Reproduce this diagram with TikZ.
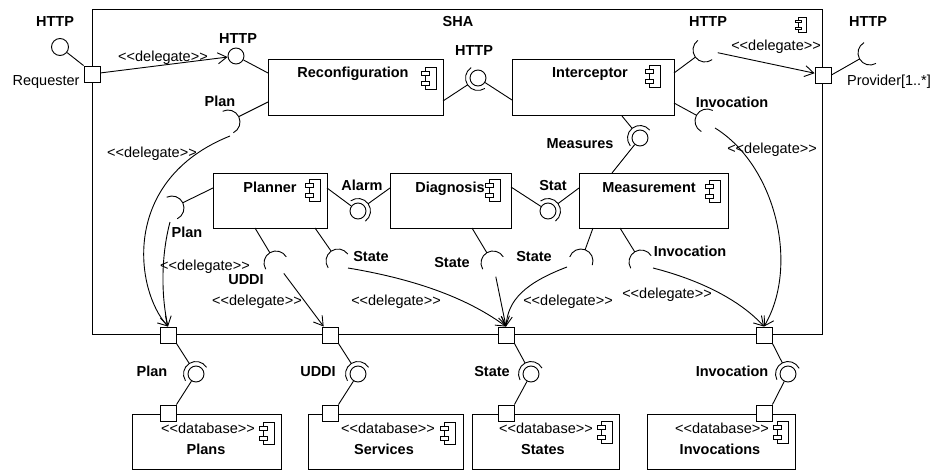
\documentclass[tikz,border=0pt]{standalone}
\usepackage{fontspec}
\newfontfamily\lsans{Liberation Sans}
\usetikzlibrary{calc,arrows.meta}
\newcommand\sockarc[3]{%
  \draw (#1) -- ($(#2)!#3pt!(#1)$);
  \draw let \p1=($(#1)-(#2)$), \n1={atan2(\y1,\x1)} in
    ($(#2)+(\n1-90:#3pt)$) arc[start angle=\n1-90, delta angle=180, radius=#3pt];
}
\tikzset{
  cicon/.pic={
    \draw[fill=white] (-5,-11) rectangle (6,11);
    \draw[fill=white] (-9,-7) rectangle (-1,-3);
    \draw[fill=white] (-9,3) rectangle (-1,7);
  }
}
\begin{document}
\begin{tikzpicture}[x=1pt,y=-1pt, line width=0.9pt,
  every node/.style={font=\lsans\fontsize{14.5pt}{17pt}\selectfont},
  comp/.style={draw, rectangle, inner sep=0, fill=white},
  portbox/.style={draw, rectangle, fill=white, minimum size=16pt, inner sep=0},
  ball/.style={draw, circle, fill=white, minimum size=16pt, inner sep=0},
  lbl/.style={anchor=base, inner sep=0},
  blbl/.style={anchor=base, inner sep=0, font=\lsans\bfseries\fontsize{14.5pt}{17pt}\selectfont},
  dlg/.style={-{Straight Barb[length=9pt,width=11pt]}}]
\useasboundingbox (0,0) rectangle (932,471);
\fill[white] (0,0) rectangle (932,471);

% SHA container
\node[draw, rectangle, inner sep=0, minimum width=730pt, minimum height=325pt] (sha) at (457,171.5) {};
\pic at (802,25) [scale=0.7] {cicon};
\node[blbl] (tsha) at (458,27) {SHA};

% components
\node[comp, minimum width=175pt, minimum height=56pt] (recon) at (355.5,87) {};
\node[comp, minimum width=162pt, minimum height=56pt] (intc) at (593,87) {};
\node[comp, minimum width=114pt, minimum height=55pt] (plan) at (270,200.5) {};
\node[comp, minimum width=121pt, minimum height=55pt] (diag) at (450.5,200.5) {};
\node[comp, minimum width=149pt, minimum height=55pt] (meas) at (653.5,200.5) {};
\node[comp, minimum width=149pt, minimum height=55pt] (dbplans) at (206.5,441.5) {};
\node[comp, minimum width=155pt, minimum height=55pt] (dbserv) at (385.5,441.5) {};
\node[comp, minimum width=147pt, minimum height=55pt] (dbstates) at (545.5,441.5) {};
\node[comp, minimum width=148pt, minimum height=55pt] (dbinv) at (721,441.5) {};

\pic at (430,78) {cicon};
\pic at (654,76) {cicon};
\pic at (314,190) {cicon};
\pic at (494,190) {cicon};
\pic at (714,191) {cicon};
\pic at (268,433) {cicon};
\pic at (449,433) {cicon};
\pic at (606,432) {cicon};
\pic at (782,432) {cicon};

\node[blbl] (treco) at (353,77) {Reconfiguration};
\node[blbl] (tintc) at (590,77) {Interceptor};
\node[blbl] (tplan) at (270,192) {Planner};
\node[blbl] (tdiag) at (450,192) {Diagnosis};
\node[blbl] (tmeas) at (649,192) {Measurement};
\node[lbl] (tdb1) at (208,433) {<<database>>};
\node[lbl] (tdb2) at (388,433) {<<database>>};
\node[lbl] (tdb3) at (546,433) {<<database>>};
\node[lbl] (tdb4) at (722,433) {<<database>>};
\node[blbl] (tplans) at (206,454) {Plans};
\node[blbl] (tserv) at (384,454) {Services};
\node[blbl] (tstates) at (543,454) {States};
\node[blbl] (tinvs) at (720,454) {Invocations};

% attach points
\coordinate (aRcHttp) at (268,73);
\coordinate (aRcPlan) at (268,102);
\coordinate (aRcAsm) at (443,101);
\coordinate (aInAsm) at (512,100);
\coordinate (aInHttp) at (674,73);
\coordinate (aInInv) at (674,103);
\coordinate (aInMeas) at (622,116);
\coordinate (aMeMeas) at (612,173);
\coordinate (aPlAlarm) at (327,188);
\coordinate (aDiAlarm) at (390,188);
\coordinate (aDiStat) at (511,187);
\coordinate (aMeStat) at (579,188);
\coordinate (aPlPlan) at (213,188);
\coordinate (aPlUddi) at (255,228);
\coordinate (aPlState) at (315,228);
\coordinate (aDiState) at (472,228);
\coordinate (aMeState) at (593,228);
\coordinate (aMeInv) at (620,228);

% socket / assembly centres
\coordinate (sPlan1) at (228,122);
\coordinate (sHout) at (705,50);
\coordinate (sProvX) at (870,53);
\coordinate (sInv1) at (707,121);
\coordinate (sPlan2) at (172,208);
\coordinate (sUddi) at (276,263);
\coordinate (sState1) at (338,261);
\coordinate (sState2) at (493,263);
\coordinate (sState3) at (581,261);
\coordinate (sInv2) at (641,262);
\coordinate (asmHttp) at (478,78);
\coordinate (asmMeas) at (640,138);
\coordinate (asmAlarm) at (358,211);
\coordinate (asmStat) at (548,211);
\coordinate (dbPlan) at (196,374);
\coordinate (dbUddi) at (358,374);
\coordinate (dbState) at (531,374);
\coordinate (dbInv) at (788,374);

% ports
\node[portbox] (preq) at (92,74) {};
\node[portbox] (pprov) at (823,75) {};
\node[portbox] (pPlanU) at (168,335) {};
\node[portbox] (pServU) at (330,335) {};
\node[portbox] (pStateU) at (506,335) {};
\node[portbox] (pInvU) at (764,335) {};
\node[portbox] (pPlanL) at (168,413) {};
\node[portbox] (pServL) at (330,413) {};
\node[portbox] (pStateL) at (506,413) {};
\node[portbox] (pInvL) at (764,413) {};

% balls
\node[ball, minimum size=17pt] (bHttpX) at (60,47) {};
\node[ball] (bHttpIn) at (236,56) {};
\node[ball] (bHttpA) at (asmHttp) {};
\node[ball] (bMeas) at (asmMeas) {};
\node[ball] (bAlarm) at (asmAlarm) {};
\node[ball] (bStat) at (asmStat) {};
\node[ball] (bDbPlan) at (dbPlan) {};
\node[ball] (bDbUddi) at (dbUddi) {};
\node[ball] (bDbState) at (dbState) {};
\node[ball] (bDbInv) at (dbInv) {};

% ball lines
\draw (bHttpX) -- (preq.north west);
\draw (bHttpIn) -- (aRcHttp);
\draw (bHttpA) -- (aInAsm);
\draw (bMeas) -- (aMeMeas);
\draw (bAlarm) -- (aPlAlarm);
\draw (bStat) -- (aDiStat);
\draw (bDbPlan) -- (pPlanL.north east);
\draw (bDbUddi) -- (pServL.north east);
\draw (bDbState) -- (pStateL.north east);
\draw (bDbInv) -- (pInvL.north east);

% sockets
\sockarc{aRcPlan}{sPlan1}{12}
\sockarc{aInHttp}{sHout}{12}
\sockarc{pprov.east}{sProvX}{12}
\sockarc{aInInv}{sInv1}{12}
\sockarc{aPlPlan}{sPlan2}{12}
\sockarc{aPlUddi}{sUddi}{12}
\sockarc{aPlState}{sState1}{12}
\sockarc{aDiState}{sState2}{12}
\sockarc{aMeState}{sState3}{12}
\sockarc{aMeInv}{sInv2}{12}
\sockarc{aRcAsm}{asmHttp}{12.5}
\sockarc{aInMeas}{asmMeas}{12.5}
\sockarc{aDiAlarm}{asmAlarm}{12.5}
\sockarc{aMeStat}{asmStat}{12.5}
\sockarc{pPlanU.south east}{dbPlan}{12.5}
\sockarc{pServU.south east}{dbUddi}{12.5}
\sockarc{pStateU.south east}{dbState}{12.5}
\sockarc{pInvU.south east}{dbInv}{12.5}

% delegations
\draw[dlg] (preq) -- (bHttpIn);
\draw[dlg, shorten <=13pt] (sHout) -- (pprov);
\draw[dlg] ($(sPlan1)+(2,14)$) .. controls (120,180) and (135,290) .. (pPlanU.north);
\draw[dlg] ($(sPlan2)+(-2,14)$) .. controls (160,260) and (162,300) .. (pPlanU.north);
\draw[dlg, shorten <=13pt] (sUddi) -- (pServU);
\draw[dlg] ($(sState1)+(10,7)$) .. controls (420,280) and (470,300) .. (pStateU.north);
\draw[dlg, shorten <=14pt] (sState2) -- (pStateU.north);
\draw[dlg] ($(sState3)+(-14,6)$) .. controls (525,283) and (508,300) .. (pStateU.north);
\draw[dlg] ($(sInv2)+(12,6)$) .. controls (700,280) and (740,300) .. (pInvU.north);
\draw[dlg] ($(sInv1)+(8,7)$) .. controls (775,165) and (800,265) .. (pInvU.north);

% interface labels
\node[blbl] (l1) at (55,27) {HTTP};
\node[lbl, anchor=base east] (l2) at (80,85) {Requester};
\node[blbl] (l3) at (238,43) {HTTP};
\node[blbl] (l4) at (474,55) {HTTP};
\node[blbl] (l5) at (708,27) {HTTP};
\node[blbl] (l6) at (868,27) {HTTP};
\node[lbl] (l7) at (889,85) {Provider[1..*]};
\node[blbl] (l8) at (220,106) {Plan};
\node[blbl] (l9) at (732,107) {Invocation};
\node[blbl] (l10) at (580,148) {Measures};
\node[blbl] (l11) at (362,190) {Alarm};
\node[blbl] (l12) at (553,190) {Stat};
\node[blbl] (l13) at (187,237) {Plan};
\node[blbl] (l14) at (246,284) {UDDI};
\node[blbl] (l15) at (371,261) {State};
\node[blbl] (l16) at (452,267) {State};
\node[blbl] (l17) at (534,261) {State};
\node[blbl] (l18) at (690,256) {Invocation};
\node[blbl] (l19) at (152,376) {Plan};
\node[blbl] (l20) at (318,376) {UDDI};
\node[blbl] (l21) at (492,376) {State};
\node[blbl] (l22) at (732,376) {Invocation};

% delegate labels
\node[lbl] (d1) at (163,61) {<<delegate>>};
\node[lbl] (d2) at (152,157) {<<delegate>>};
\node[lbl] (d3) at (776,50) {<<delegate>>};
\node[lbl] (d4) at (772,153) {<<delegate>>};
\node[lbl] (d5) at (205,270) {<<delegate>>};
\node[lbl] (d6) at (257,305) {<<delegate>>};
\node[lbl] (d7) at (396,305) {<<delegate>>};
\node[lbl] (d8) at (568,305) {<<delegate>>};
\node[lbl] (d9) at (667,298) {<<delegate>>};
\end{tikzpicture}
\end{document}
